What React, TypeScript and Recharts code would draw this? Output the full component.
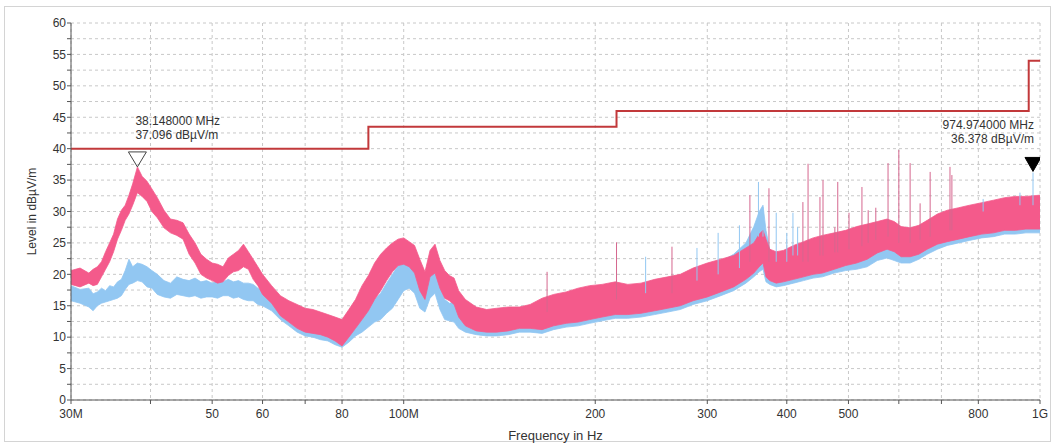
import {
  ComposedChart,
  Area,
  Line,
  Scatter,
  ErrorBar,
  XAxis,
  YAxis,
  CartesianGrid,
} from "recharts";

// frequency in MHz
const freqs = [
  30, 31, 32, 32.5, 33, 33.5, 34, 34.5, 35, 35.5,
  36, 36.5, 37, 37.5, 38.15, 38.8, 39.5, 40.2, 41, 42,
  43, 44, 45, 46, 47, 48, 49, 50, 51, 52,
  53, 54, 55, 56, 57, 58, 59, 60, 62, 64,
  66, 68, 70, 72, 74, 76, 78, 80, 82, 84,
  86, 88, 90, 92, 94, 96, 98, 100, 102, 104,
  106, 108, 110, 112, 114, 116, 118, 120, 122, 125,
  130, 135, 140, 146, 152, 158, 165, 172, 180, 188,
  196, 205, 215, 225, 236, 248, 260, 272, 285, 300,
  315, 330, 345, 355, 362, 367, 371, 376, 385, 395,
  410, 425, 440, 455, 475, 495, 515, 535, 555, 575,
  590, 605, 625, 645, 665, 690, 715, 745, 775, 810,
  845, 880, 915, 950, 1000,
];

// pink trace (min / max of the noise band), dBµV/m
const pinkLo = [
  18.4, 18.0, 18.6, 18.2, 18.4, 19.6, 20.8, 22.0, 23.6, 25.6,
  27.0, 28.6, 29.6, 31.0, 33.0, 32.4, 31.6, 30.0, 29.0, 27.4,
  26.6, 26.2, 25.6, 23.2, 21.8, 20.0, 19.4, 19.0, 18.6, 18.8,
  19.8, 20.4, 20.6, 21.2, 20.8, 19.2, 18.2, 16.8, 15.4, 13.4,
  12.4, 11.4, 10.8, 10.6, 10.4, 10.0, 9.4, 8.6, 10.0, 11.4,
  12.8, 14.2, 16.0, 17.4, 19.0, 20.4, 21.4, 21.6, 21.2, 20.2,
  17.4, 16.0, 19.6, 20.2, 17.8, 16.2, 15.8, 15.2, 13.2, 11.8,
  11.0, 10.8, 10.8, 11.0, 11.4, 11.4, 11.2, 11.8, 12.2, 12.4,
  12.8, 13.2, 13.6, 13.6, 13.8, 14.2, 14.6, 15.0, 15.8, 16.4,
  17.2, 18.0, 19.2, 20.2, 21.2, 21.8, 19.6, 19.0, 18.6, 18.8,
  19.2, 19.6, 20.0, 20.2, 20.8, 21.4, 21.8, 22.4, 23.4, 24.0,
  23.6, 22.8, 22.8, 23.2, 24.0, 24.8, 25.2, 25.6, 26.0, 26.4,
  26.6, 27.0, 27.0, 27.2, 27.2,
];
const pinkHi = [
  20.6, 21.0, 20.2, 20.8, 21.2, 22.0, 23.6, 25.0, 26.4, 28.8,
  30.2, 31.0, 32.6, 34.4, 37.1, 35.6, 34.8, 33.6, 32.2, 30.2,
  28.8, 28.6, 28.2, 26.4, 25.0, 23.2, 22.4, 21.8, 21.6, 21.2,
  22.6, 23.2, 23.8, 24.8, 23.6, 22.4, 21.2, 20.0, 18.2, 16.6,
  15.8, 15.2, 14.6, 14.4, 14.0, 13.6, 13.2, 12.8, 14.4, 16.0,
  18.2, 19.8, 21.8, 23.2, 24.2, 25.0, 25.6, 25.8, 25.2, 24.6,
  22.4, 20.4, 23.8, 24.8, 22.2, 20.6, 19.8, 19.4, 17.4, 16.0,
  14.8, 14.4, 14.6, 14.8, 14.8, 15.2, 16.2, 16.8, 17.2, 17.8,
  18.2, 18.4, 18.8, 18.4, 18.6, 19.2, 19.6, 20.0, 21.0, 21.8,
  22.4, 23.0, 24.2, 25.0, 26.4, 27.0, 25.6, 24.0, 23.6, 23.8,
  24.6, 25.2, 25.8, 26.2, 26.6, 27.0, 27.6, 28.0, 28.4, 28.8,
  28.4, 27.6, 27.4, 27.8, 28.6, 29.6, 30.2, 30.6, 31.0, 31.4,
  31.8, 32.2, 32.4, 32.4, 32.6,
];

// blue trace
const blueLo = [
  15.8, 15.4, 14.8, 14.2, 15.0, 15.4, 15.6, 15.8, 16.0, 16.2,
  16.6, 17.6, 18.4, 18.6, 19.0, 18.8, 18.0, 17.8, 16.8, 16.4,
  16.2, 16.8, 16.6, 16.4, 16.6, 16.2, 16.4, 16.4, 16.2, 16.6,
  16.6, 16.2, 16.4, 16.0, 15.8, 15.8, 15.2, 15.0, 14.2, 12.8,
  11.8, 10.8, 10.2, 10.0, 9.6, 9.4, 8.8, 8.4, 9.2, 10.2,
  10.8, 11.6, 12.4, 12.8, 13.8, 14.6, 16.0, 17.4, 17.8, 17.0,
  14.6, 14.0, 16.2, 17.0, 14.4, 12.8, 12.6, 12.4, 11.4, 10.8,
  10.4, 10.2, 10.2, 10.4, 10.8, 10.8, 10.6, 11.2, 11.6, 11.8,
  12.2, 12.6, 13.0, 13.0, 13.2, 13.6, 14.0, 14.4, 15.2, 15.8,
  16.6, 17.4, 18.6, 19.6, 20.4, 20.8, 18.8, 18.4, 18.0, 18.2,
  18.6, 19.0, 19.4, 19.6, 20.2, 20.6, 20.8, 21.2, 22.2, 22.6,
  22.2, 21.8, 21.8, 22.4, 23.2, 24.0, 24.6, 25.0, 25.4, 25.8,
  26.0, 26.4, 26.4, 26.6, 26.6,
];
const blueHi = [
  18.2, 17.6, 17.8, 16.9, 17.2, 17.8, 17.4, 18.2, 18.0, 18.8,
  19.2, 20.6, 22.4, 21.2, 21.8, 21.6, 21.2, 20.6, 20.0, 19.0,
  18.6, 19.6, 19.2, 19.0, 19.4, 18.8, 19.0, 18.6, 19.0, 18.8,
  19.2, 18.8, 19.0, 18.6, 18.6, 18.4, 17.8, 17.4, 16.6, 15.6,
  14.8, 14.0, 13.4, 13.2, 12.8, 12.6, 12.0, 11.6, 12.4, 13.2,
  14.0, 15.0, 16.0, 17.0, 18.6, 20.0, 21.4, 22.8, 22.2, 20.6,
  18.0, 16.6, 20.0, 21.2, 18.0, 16.0, 15.4, 15.6, 14.6, 14.0,
  13.6, 13.4, 13.6, 13.8, 13.8, 14.2, 15.0, 15.6, 16.2, 16.8,
  17.2, 17.6, 17.8, 17.8, 18.0, 18.6, 19.0, 19.4, 20.4, 21.4,
  22.0, 23.2, 25.0, 27.6, 30.0, 31.0, 27.0, 24.0, 23.2, 23.4,
  24.0, 24.4, 25.0, 25.4, 25.8, 26.2, 26.8, 27.0, 27.4, 27.6,
  27.2, 26.8, 26.8, 27.4, 28.0, 28.8, 29.4, 30.0, 30.6, 31.0,
  31.4, 31.8, 32.0, 32.2, 32.4,
];

// narrow-band spikes
const pinkSpikeFreqs = [168, 216, 264, 350, 375, 424, 432, 451, 456, 476, 481, 501, 525, 537, 552, 577, 600, 625, 648, 672, 722, 727];
const pinkSpikeTops = [20.4, 25.1, 24.4, 32.6, 33.7, 31.5, 37.6, 32.3, 35.0, 27.5, 34.7, 29.8, 33.9, 30.2, 30.6, 37.7, 39.8, 37.7, 31.3, 36.3, 37.1, 35.8];
const pinkSpikeBases = [14, 16, 17, 22, 22, 22, 22, 23, 23, 23.5, 23.5, 24, 24.5, 25, 25.5, 26, 25, 25, 25.5, 26, 27, 27];

const blueSpikeFreqs = [240, 289, 312, 337, 361, 367, 385, 400, 409, 416, 814, 930, 975];
const blueSpikeTops = [22.8, 24.2, 26.6, 27.8, 34.7, 30.7, 29.8, 26.6, 29.8, 27.5, 32.0, 33.0, 36.2];
const blueSpikeBases = [17, 19, 20, 21, 26, 26, 22, 22, 23, 23, 30, 31, 31];

// FCC class B limit
const limitFreqs = [30, 88, 216, 960, 1000];
const limitLevels = [40, 43.5, 46, 54, 54];

const markerFreqs = [38.148, 974.974];
const markerLevels = [37.096, 36.378];
const markerFilled = [false, true];

const xTicks = [30, 40, 50, 60, 70, 80, 100, 200, 300, 400, 500, 600, 700, 800, 1000];
const xTickLabels = ["30M", "", "50", "60", "", "80", "100M", "200", "300", "400", "500", "", "", "800", "1G"];
const yTicks = [
  0, 2.5, 5, 7.5, 10, 12.5, 15, 17.5, 20, 22.5, 25, 27.5, 30,
  32.5, 35, 37.5, 40, 42.5, 45, 47.5, 50, 52.5, 55, 57.5, 60,
];

const PINK = "#f45a8b";
const BLUE = "#92c7f2";
const LIMIT = "#c2393b";
const AXIS = "#555";
const TEXT = "#333";
const FONT = "'Liberation Sans', Arial, sans-serif";

const pinkRows = freqs.map((f, i) => ({ f, range: [pinkLo[i], pinkHi[i]] }));
const blueRows = freqs.map((f, i) => ({ f, range: [blueLo[i], blueHi[i]] }));
const limitRows = limitFreqs.map((f, i) => ({ f, v: limitLevels[i] }));
const pinkSpikes = pinkSpikeFreqs.map((f, i) => ({
  f,
  v: pinkSpikeTops[i],
  err: [pinkSpikeTops[i] - pinkSpikeBases[i], 0],
}));
const blueSpikes = blueSpikeFreqs.map((f, i) => ({
  f,
  v: blueSpikeTops[i],
  err: [blueSpikeTops[i] - blueSpikeBases[i], 0],
}));
const markerRows = markerFreqs.map((f, i) => ({ f, v: markerLevels[i], filled: markerFilled[i] }));

function MarkerShape(props: any) {
  const { cx, cy, payload } = props;
  const filled = payload.filled;
  const w = filled ? 8 : 9;
  const h = filled ? 14 : 15;
  const tx = filled ? cx + 1 : cx - 2;
  const anchor = filled ? "end" : "start";
  return (
    <g>
      <polygon
        points={`${cx - w},${cy - h} ${cx + w},${cy - h} ${cx},${cy}`}
        fill={filled ? "#000" : "none"}
        stroke={filled ? "#000" : "#444"}
        strokeWidth={1}
      />
      <text x={tx} y={cy - 46} textAnchor={anchor} dominantBaseline="central" fontSize={12} fill={TEXT} fontFamily={FONT}>
        {`${payload.f.toFixed(6)} MHz`}
      </text>
      <text x={tx} y={cy - 32} textAnchor={anchor} dominantBaseline="central" fontSize={12} fill={TEXT} fontFamily={FONT}>
        {`${payload.v.toFixed(3)} dBµV/m`}
      </text>
    </g>
  );
}

function YTitle(props: any) {
  const { viewBox } = props;
  const x = viewBox.x + 1;
  const y = viewBox.y + viewBox.height / 2;
  return (
    <text
      x={x}
      y={y}
      transform={`rotate(-90 ${x} ${y})`}
      textAnchor="middle"
      dominantBaseline="central"
      fontSize={12}
      fill={TEXT}
      fontFamily={FONT}
    >
      Level in dBµV/m
    </text>
  );
}

const noDot = () => <g />;

export default function App() {
  return (
    <div
      style={{
        position: "absolute",
        left: 0,
        top: 0,
        width: 1054,
        height: 443,
        background: "#fff",
        fontFamily: FONT,
      }}
    >
      {/* light frame round the whole picture */}
      <div
        style={{
          position: "absolute",
          left: 4,
          top: 6,
          width: 1045,
          height: 434,
          border: "1px solid #d4d4d4",
        }}
      />
      <ComposedChart
        width={1054}
        height={443}
        margin={{ top: 23, right: 14, bottom: 12, left: 31 }}
        style={{ position: "absolute", left: 0, top: 0 }}
      >
        <CartesianGrid stroke="#c8c8c8" strokeDasharray="3 3" />
        <XAxis
          dataKey="f"
          type="number"
          scale="log"
          domain={[30, 1000]}
          ticks={xTicks}
          interval={0}
          allowDataOverflow
          tickFormatter={(v: number) => xTickLabels[xTicks.indexOf(v)] ?? ""}
          tick={{ fontSize: 12, fill: TEXT, fontFamily: FONT }}
          tickSize={4}
          tickMargin={5}
          height={31}
          stroke={AXIS}
          label={{ value: "Frequency in Hz", position: "bottom", offset: 0, fontSize: 13, fill: TEXT, fontFamily: FONT }}
        />
        <YAxis
          type="number"
          domain={[0, 60]}
          ticks={yTicks}
          interval={0}
          allowDataOverflow
          tickFormatter={(v: number) => (v % 5 === 0 ? String(v) : "")}
          tick={{ fontSize: 12, fill: TEXT, fontFamily: FONT }}
          tickSize={4}
          tickMargin={1}
          width={40}
          stroke={AXIS}
          label={<YTitle />}
        />
        <Area
          data={blueRows}
          dataKey="range"
          type="linear"
          stroke={BLUE}
          strokeWidth={0.8}
          fill={BLUE}
          fillOpacity={1}
          isAnimationActive={false}
          dot={false}
          activeDot={false}
        />
        <Area
          data={pinkRows}
          dataKey="range"
          type="linear"
          stroke={PINK}
          strokeWidth={0.8}
          fill={PINK}
          fillOpacity={1}
          isAnimationActive={false}
          dot={false}
          activeDot={false}
        />
        <Scatter data={blueSpikes} dataKey="v" shape={noDot} isAnimationActive={false}>
          <ErrorBar dataKey="err" direction="y" width={0} stroke={BLUE} strokeWidth={1} />
        </Scatter>
        <Scatter data={pinkSpikes} dataKey="v" shape={noDot} isAnimationActive={false}>
          <ErrorBar dataKey="err" direction="y" width={0} stroke="#d5678f" strokeWidth={1} />
        </Scatter>
        <Line
          data={limitRows}
          dataKey="v"
          type="stepAfter"
          stroke={LIMIT}
          strokeWidth={2}
          dot={false}
          activeDot={false}
          isAnimationActive={false}
        />
        <Scatter data={markerRows} dataKey="v" shape={<MarkerShape />} isAnimationActive={false} />
      </ComposedChart>
    </div>
  );
}
